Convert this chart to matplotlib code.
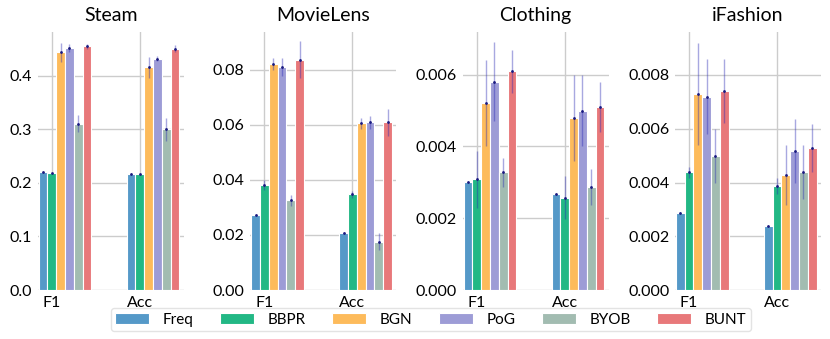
import matplotlib
matplotlib.use("Agg")
import matplotlib.pyplot as plt
import numpy as np

plt.rcParams['font.family'] = ['Lato', 'DejaVu Sans']

datasets = ["Steam", "MovieLens", "Clothing", "iFashion"]
metrics = ["F1", "Acc"]
methods = ["Freq", "BBPR", "BGN", "PoG", "BYOB", "BUNT"]
colors = ["#5599c8", "#22b885", "#fdbb5b", "#9d9cd6", "#a2bcb1", "#e8787a"]

# values[dataset] -> rows: methods, cols: metrics (F1, Acc)
steam_vals = [[0.220, 0.217], [0.218, 0.216], [0.444, 0.416], [0.452, 0.432], [0.311, 0.300], [0.455, 0.451]]
steam_errs = [[0.001, 0.001], [0.001, 0.001], [0.018, 0.020], [0.008, 0.005], [0.016, 0.022], [0.005, 0.006]]
ml_vals = [[0.0274, 0.0208], [0.0382, 0.0348], [0.0821, 0.0606], [0.0811, 0.0609], [0.0326, 0.0176], [0.0837, 0.0609]]
ml_errs = [[0.0002, 0.0002], [0.0018, 0.0013], [0.0022, 0.0019], [0.0033, 0.0024], [0.0021, 0.0030], [0.0067, 0.0050]]
cl_vals = [[0.00300, 0.00268], [0.00308, 0.00257], [0.00520, 0.00480], [0.00580, 0.00500], [0.00328, 0.00288], [0.00610, 0.00510]]
cl_errs = [[0.00002, 0.00002], [0.00080, 0.00060], [0.00120, 0.00120], [0.00110, 0.00100], [0.00040, 0.00050], [0.00060, 0.00070]]
if_vals = [[0.00288, 0.00238], [0.00438, 0.00388], [0.00730, 0.00428], [0.00720, 0.00518], [0.00498, 0.00438], [0.00740, 0.00528]]
if_errs = [[0.00002, 0.00002], [0.00020, 0.00030], [0.00190, 0.00110], [0.00140, 0.00120], [0.00100, 0.00100], [0.00120, 0.00090]]

all_vals = [steam_vals, ml_vals, cl_vals, if_vals]
all_errs = [steam_errs, ml_errs, cl_errs, if_errs]
ylims = [0.482, 0.0938, 0.00719, 0.0096]
yticks = [np.arange(0, 0.41, 0.1), np.arange(0, 0.081, 0.02), np.arange(0, 0.0061, 0.002), np.arange(0, 0.0081, 0.002)]
yfmt = ["{:.1f}", "{:.2f}", "{:.3f}", "{:.3f}"]

W, H = 830, 339
fig = plt.figure(figsize=(W / 100, H / 100), dpi=100)
f1_px = [51.7, 264.3, 476.7, 689.0]
unit = 88.0
xmin, xmax = -0.16, 1.5
bw = 0.1

for k, name in enumerate(datasets):
    left = (f1_px[k] + xmin * unit) / W
    width = (xmax - xmin) * unit / W
    ax = fig.add_axes([left, 1 - 290 / H, width, (290 - 32) / H])
    vals = np.array(all_vals[k])
    errs = np.array(all_errs[k])
    x = np.arange(len(metrics))
    for i, m in enumerate(methods):
        xs = x + (i - 1) * bw
        ax.bar(xs, vals[i], width=bw, color=colors[i], edgecolor="white", linewidth=0.8, zorder=2, label=m)
        ax.errorbar(xs, vals[i], yerr=errs[i], fmt='none', ecolor=(0.15, 0.15, 0.7, 0.4), elinewidth=1.0, zorder=3)
        ax.plot(xs, vals[i], linestyle='none', marker='o', markersize=1.0, color='#1a1a80', zorder=4)
    ax.set_xlim(xmin, xmax)
    ax.set_ylim(0, ylims[k])
    ax.set_xticks(x)
    ax.set_xticklabels(metrics, fontsize=11.5)
    ax.set_yticks(yticks[k])
    ax.set_yticklabels([yfmt[k].format(v) for v in yticks[k]], fontsize=11.5)
    ax.tick_params(length=0, pad=4)
    ax.grid(True, color="#cccccc", linewidth=1.0, zorder=0)
    ax.set_axisbelow(True)
    for s in ax.spines.values():
        s.set_visible(False)
    ax.set_title(name, fontsize=14, pad=8)
    if k == 0:
        handles, labels = ax.get_legend_handles_labels()

fig.legend(handles, labels, loc="lower center", bbox_to_anchor=(0.519, 0.0), ncol=6,
           fontsize=11, frameon=True, edgecolor="#dddddd", handlelength=2.2, handleheight=0.8,
           handletextpad=0.9, columnspacing=1.75, borderpad=0.3)

fig.savefig("out.png", dpi=100, facecolor="white")
